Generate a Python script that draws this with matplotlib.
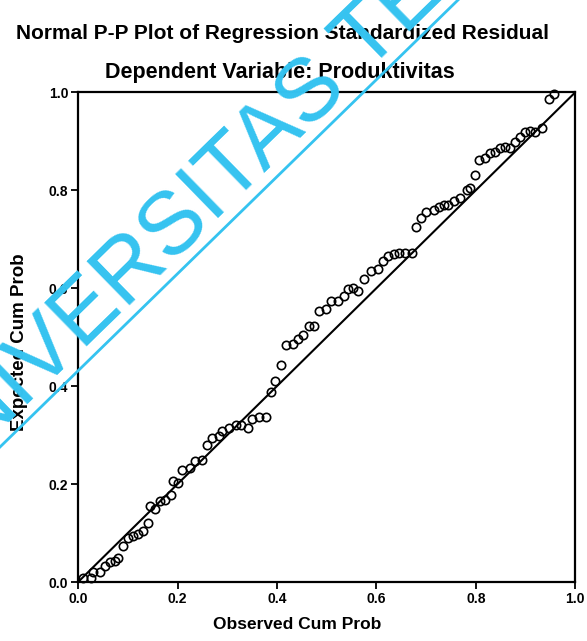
import numpy as np
import matplotlib.pyplot as plt

# observed / expected cumulative probabilities
observed = [0.01, 0.025, 0.03, 0.045, 0.055, 0.065, 0.075, 0.08,
            0.09, 0.10, 0.11, 0.12, 0.13, 0.14, 0.145, 0.155, 0.165, 0.175, 0.186,
            0.19, 0.20, 0.21, 0.226, 0.236, 0.25,
            0.26, 0.27, 0.283, 0.29, 0.303, 0.317, 0.327, 0.341, 0.35, 0.364, 0.378,
            0.388, 0.396, 0.408,
            0.418, 0.432, 0.442, 0.453, 0.465, 0.475,
            0.485, 0.499, 0.509, 0.523, 0.535, 0.543, 0.553, 0.563,
            0.576, 0.59, 0.604, 0.614, 0.624, 0.636, 0.646, 0.657, 0.671,
            0.68, 0.69, 0.70, 0.715, 0.725, 0.736, 0.745, 0.756, 0.768, 0.782, 0.788,
            0.798, 0.806, 0.818, 0.828, 0.838, 0.848, 0.859, 0.869, 0.879, 0.889,
            0.899, 0.909, 0.919, 0.933,
            0.947, 0.958]
expected = [0.008, 0.008, 0.02, 0.02, 0.033, 0.041, 0.043, 0.05,
            0.074, 0.089, 0.095, 0.099, 0.105, 0.12, 0.155, 0.15, 0.165, 0.167, 0.177,
            0.206, 0.202, 0.229, 0.233, 0.247, 0.25,
            0.28, 0.295, 0.299, 0.309, 0.315, 0.32, 0.32, 0.315, 0.332, 0.336, 0.336,
            0.388, 0.41, 0.443,
            0.485, 0.487, 0.497, 0.505, 0.522, 0.522,
            0.553, 0.557, 0.573, 0.573, 0.584, 0.598, 0.60, 0.594,
            0.619, 0.635, 0.639, 0.656, 0.666, 0.67, 0.672, 0.672, 0.672,
            0.724, 0.744, 0.755, 0.759, 0.765, 0.769, 0.769, 0.779, 0.784, 0.80, 0.804,
            0.831, 0.862, 0.866, 0.876, 0.878, 0.887, 0.889, 0.887, 0.899, 0.909,
            0.918, 0.92, 0.918, 0.928,
            0.986, 0.996]
ticks = [0.0, 0.2, 0.4, 0.6, 0.8, 1.0]

plt.rcParams['font.family'] = ['Liberation Sans', 'DejaVu Sans']

W, H = 587, 641
fig = plt.figure(figsize=(W / 100, H / 100), dpi=100)
ax = fig.add_axes([0.133, 0.092, 0.847, 0.764])

ax.plot([0, 1], [0, 1], color='black', lw=1.5, zorder=2)
ax.plot(observed, expected, 'o', mfc='none', mec='black', ms=6, mew=1.2,
        zorder=3, clip_on=False)

ax.set_xlim(0, 1)
ax.set_ylim(0, 1)
ax.set_xticks(ticks)
ax.set_yticks(ticks)
ax.set_xticklabels(['%.1f' % t for t in ticks], fontsize=10, fontweight='bold')
ax.set_yticklabels(['%.1f' % t for t in ticks], fontsize=10, fontweight='bold')
ax.tick_params(direction='out', length=5, width=1.3, pad=2)
for s in ax.spines.values():
    s.set_linewidth(1.6)

ax.set_xlabel('Observed Cum Prob', fontsize=12.5, fontweight='bold')
ax.xaxis.set_label_coords(0.44, -0.072)
ax.set_ylabel('Expected Cum Prob', fontsize=13.5, fontweight='bold')
ax.yaxis.set_label_coords(-0.1, 0.49)

fig.text(0.482, 0.948, 'Normal P-P Plot of Regression Standardized Residual',
         ha='center', va='center', fontsize=15, fontweight='bold')
fig.text(0.477, 0.887, 'Dependent Variable: Produktivitas',
         ha='center', va='center', fontsize=15.5, fontweight='bold')

# watermark: second word starts near pixel (366, 74) from top-left
wm = '#35c3f0'
ang = 44.3
fs = 64
r = fig.canvas.get_renderer()
p1 = fig.text(0, 0, 'UNIVERSITAS T', fontsize=fs)
p2 = fig.text(0, 0, 'T', fontsize=fs)
adv = p1.get_window_extent(r).width - p2.get_window_extent(r).width
p1.remove()
p2.remove()
tx, ty = 366, H - 74
ca, sa = np.cos(np.radians(ang)), np.sin(np.radians(ang))
x0, y0 = tx - adv * ca, ty - adv * sa
fig.text(x0 / W, y0 / H, 'UNIVERSITAS TERBUKA', rotation=ang, rotation_mode='anchor',
         ha='left', va='baseline', fontsize=fs, color=wm, zorder=10)
fig.add_artist(plt.Line2D([0.0, 458 / W], [1 - 447 / H, 1.0], transform=fig.transFigure,
                          color=wm, lw=2, zorder=10))

fig.savefig('out.png', dpi=100)
